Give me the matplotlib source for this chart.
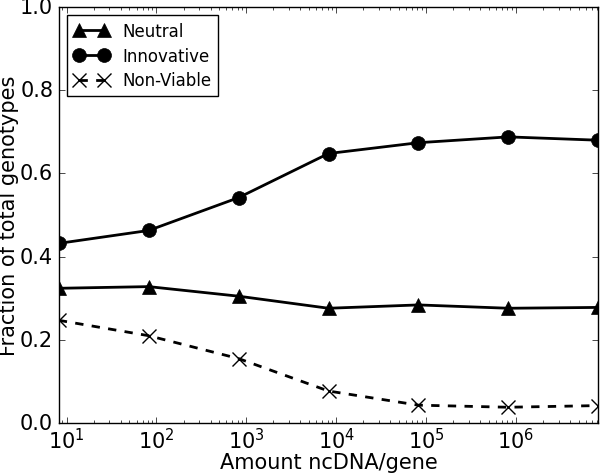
import matplotlib
matplotlib.use("Agg")
import matplotlib.pyplot as plt

plt.style.use("classic")
plt.rcParams['font.family'] = ['DejaVu Sans']

# значения
ncdna = [8.2, 82, 820, 8200, 82000, 820000, 8200000]
neutral = [0.324, 0.328, 0.305, 0.276, 0.284, 0.276, 0.278]
innovative = [0.432, 0.463, 0.542, 0.648, 0.674, 0.688, 0.680]
non_viable = [0.247, 0.210, 0.155, 0.077, 0.043, 0.038, 0.042]

fig = plt.figure(figsize=(6.0, 4.77), dpi=100, facecolor='white')
ax = fig.add_axes([0.098, 0.111, 0.899, 0.872])

ax.plot(ncdna, neutral, 'k-', marker='^', markersize=10, linewidth=2, label="Neutral")
ax.plot(ncdna, innovative, 'k-', marker='o', markersize=10, linewidth=2, label="Innovative")
ax.plot(ncdna, non_viable, 'k--', marker='x', markersize=10, linewidth=2,
        markeredgewidth=1, label="Non-Viable")

ax.set_xscale('log')
ax.set_xlim(min(ncdna), max(ncdna))
ax.set_ylim(0.0, 1.0)
ax.set_yticks([0.0, 0.2, 0.4, 0.6, 0.8, 1.0])
ax.tick_params(labelsize=15)
ax.tick_params(axis='x', which='major', pad=3)
ax.set_xlabel("Amount ncDNA/gene", fontsize=15, labelpad=0)
ax.set_ylabel("Fraction of total genotypes", fontsize=15, labelpad=1)

ax.legend(loc="upper left", fontsize=12, numpoints=2, handlelength=2.1,
          borderaxespad=0.5, labelspacing=0.4)

fig.savefig("out.png", dpi=100, facecolor='white')
